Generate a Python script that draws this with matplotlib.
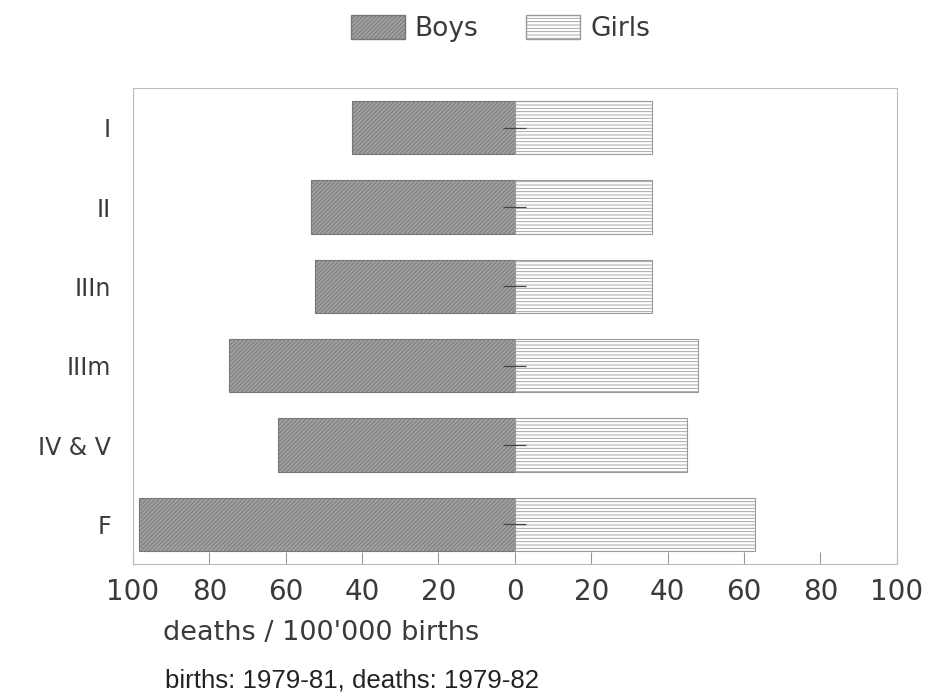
import numpy as np
import matplotlib.pyplot as plt
from matplotlib.patches import Patch

plt.rcParams['font.family'] = ['DejaVu Sans']
plt.rcParams['hatch.linewidth'] = 0.6

groups = ['I', 'II', 'IIIn', 'IIIm', 'IV & V', 'F']
boys = [42.6, 53.4, 52.4, 74.9, 62.1, 98.5]
girls = [35.8, 35.8, 35.8, 47.9, 45.0, 62.9]
err = [3, 3, 3, 3, 3, 3]
ticks = [-100, -80, -60, -40, -20, 0, 20, 40, 60, 80, 100]
tick_labels = ['100', '80', '60', '40', '20', '0', '20', '40', '60', '80', '100']

txt = '#3a3a3a'
fig = plt.figure(figsize=(9.28, 6.93), dpi=100)
ax = fig.add_axes([0.1433, 0.1861, 0.8230, 0.6869])

y = np.arange(len(groups))
plt.rcParams['hatch.color'] = '#666666'
ax.barh(y, [-b for b in boys], height=0.67, color='#a0a0a0', edgecolor='#777777',
        hatch='////////', linewidth=0.8)
plt.rcParams['hatch.color'] = '#9a9a9a'
ax.barh(y, girls, height=0.67, color='white', edgecolor='#9a9a9a',
        hatch='-----', linewidth=0.8)
ax.errorbar(np.zeros(len(groups)), y, xerr=err, fmt='none', ecolor='#444444',
            elinewidth=0.9, capsize=0)

ax.set_xlim(-100, 100)
ax.set_ylim(len(groups) - 0.5, -0.5)
ax.set_xticks(ticks)
ax.set_xticklabels(tick_labels, fontsize=20, color=txt)
ax.set_yticks(y)
ax.set_yticklabels(groups, fontsize=17, color=txt)
ax.tick_params(axis='x', direction='in', length=9, width=0.8, color='#999999', pad=10)
ax.tick_params(axis='y', length=0, pad=16)
for s in ax.spines.values():
    s.set_color('#bbbbbb')
    s.set_linewidth(0.8)

fig.text(0.176, 0.076, "deaths / 100'000 births", fontsize=19.5, color=txt)
fig.text(0.178, 0.008, 'births: 1979-81, deaths: 1979-82', fontsize=18.6,
         color='#222222', family='Liberation Sans')

handles = [Patch(facecolor='#a0a0a0', edgecolor='#777777', hatch='////////', label='Boys'),
           Patch(facecolor='white', edgecolor='#9a9a9a', hatch='-----', label='Girls')]
fig.legend(handles=handles, loc='upper center', bbox_to_anchor=(0.539, 1.012), ncol=2,
           frameon=False, fontsize=19, handlelength=2.05, handleheight=1.0,
           handletextpad=0.38, columnspacing=1.8, labelcolor=txt)

fig.savefig('out.png', dpi=100)
